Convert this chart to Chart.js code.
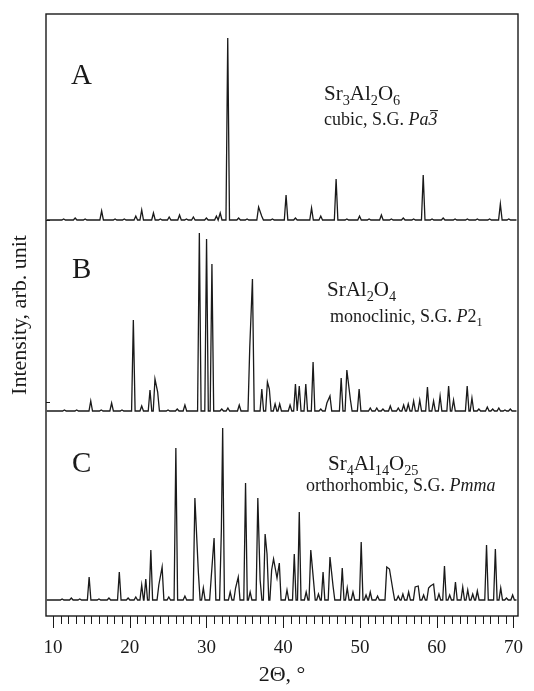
<!DOCTYPE html>
<html>
<head>
<meta charset="utf-8">
<script src="https://cdn.jsdelivr.net/npm/chart.js@4.4.1/dist/chart.umd.min.js"></script>
<style>
  html, body { margin: 0; padding: 0; background: #fff; }
</style>
</head>
<body>
<canvas id="xrd" width="534" height="691"></canvas>
<script>
const xTicks = [10, 20, 30, 40, 50, 60, 70]

// A - Sr3Al2O6, peak positions (2theta) and heights (arb.)
const posA = [11.4, 12.9, 14.2, 16.35, 18.1, 19.3, 20.8, 21.57, 23.1, 24.0, 25.15, 26.5, 27.4, 28.3, 30.0,
  31.3, 31.8, 32.78, 34.2, 35.3, 36.8, 37.2, 38.6, 40.38, 41.6, 43.7, 44.9, 46.9, 48.3, 49.95, 51.2,
  52.8, 54.1, 55.65, 57.0, 58.25, 59.4, 60.85, 62.4, 64.0, 65.3, 66.9, 68.3, 69.4]
const intA = [1, 2, 1, 9, 1, 1, 4, 10, 7, 1, 3, 5, 1, 3, 2,
  4, 7, 182, 2, 1, 13, 4, 1, 25, 2, 12, 4, 41, 1, 4, 1,
  5, 1, 2, 1, 45, 1, 2, 1, 1, 1, 1, 16, 1]

// B - SrAl2O4
const posB = [11.5, 13.1, 14.93, 16.3, 17.65, 19.0, 20.48, 21.57, 22.65, 23.3, 23.65, 25.0, 26.2, 27.2,
  29.08, 30.02, 30.72, 32.0, 32.8, 34.28, 35.65, 36.0, 37.22, 37.95, 38.2, 38.95, 39.55, 40.9, 41.6,
  42.1, 42.95, 43.9, 44.9, 45.7, 46.1, 47.56, 48.3, 48.75, 49.9, 51.35, 52.2, 53.0, 53.96, 55.0, 55.7,
  56.3, 57.0, 57.8, 58.8, 59.6, 60.45, 61.56, 62.2, 63.98, 64.6, 65.5, 66.6, 67.3, 68.1, 68.9, 69.6]
const intB = [1, 1, 10, 1, 8, 1, 91, 5, 21, 32, 19, 1, 2, 6,
  178, 172, 147, 2, 3, 6, 64, 132, 22, 29, 22, 7, 7, 6, 27,
  25, 27, 49, 2, 8, 15, 33, 41, 12, 22, 3, 3, 2, 5, 3, 6,
  7, 10, 11, 24, 10, 15, 25, 11, 25, 13, 2, 4, 2, 3, 1, 2]

// C - Sr4Al14O25
const posC = [11.2, 12.4, 13.5, 14.72, 16.0, 17.3, 18.65, 19.8, 20.8, 21.57, 22.1, 22.76, 23.8, 24.23,
  25.1, 26.02, 27.2, 28.5, 28.95, 29.6, 30.65, 31.0, 31.95, 32.12, 33.1, 33.8, 34.15, 35.1, 35.7, 36.7,
  37.0, 37.65, 37.9, 38.5, 38.75, 39.2, 39.5, 40.5, 41.45, 42.1, 43.0, 43.6, 43.95, 44.6, 45.2, 46.1,
  46.5, 47.7, 48.35, 49.1, 50.17, 50.8, 51.35, 52.3, 53.5, 53.85, 54.3, 55.0, 55.6, 56.35, 57.2, 57.6,
  58.3, 58.95, 59.2, 59.6, 60.3, 61.02, 61.7, 62.45, 63.4, 64.05, 64.7, 65.3, 66.5, 67.65, 68.35, 69.1,
  69.9]
const intC = [1, 2, 1, 23, 1, 2, 28, 2, 3, 15, 21, 50, 15, 33,
  3, 152, 4, 102, 28, 12, 25, 62, 70, 172, 8, 12, 23, 117, 8, 102,
  20, 66, 46, 30, 41, 22, 37, 10, 46, 88, 8, 50, 20, 6, 28, 43,
  14, 32, 12, 8, 58, 5, 8, 4, 33, 31, 10, 4, 6, 8, 13, 14,
  5, 12, 14, 16, 6, 34, 5, 18, 13, 10, 6, 9, 55, 51, 12, 2,
  5]

// small inward marks on the left frame (y-axis values)
const sideTicks = [214, 396]

const serif = "'Liberation Serif', 'Times New Roman', serif"
const ink = '#1a1a1a'
const halfWidth = 0.23

function profile(pos, inten, base) {
  const pts = [{x: 9.2, y: base}]
  let joined = false
  pos.forEach((p, i) => {
    if (!joined) pts.push({x: p - halfWidth, y: base})
    pts.push({x: p, y: base + inten[i]})
    const next = pos[i + 1]
    joined = next !== undefined && next - p < 2 * halfWidth
    if (!joined) pts.push({x: p + halfWidth, y: base})
  })
  pts.push({x: 70.4, y: base})
  return pts
}

function drawRuns(ctx, x, y, size, runs) {
  runs.forEach(r => {
    const s = r.sub ? size * 0.68 : size
    ctx.font = (r.it ? 'italic ' : '') + s + 'px ' + serif
    const dy = r.sub ? size * 0.22 : 0
    ctx.fillText(r.t, x, y + dy)
    const w = ctx.measureText(r.t).width
    if (r.bar) {
      ctx.beginPath()
      ctx.moveTo(x + 1.5, y - size * 0.8)
      ctx.lineTo(x + w + 0.5, y - size * 0.8)
      ctx.lineWidth = 1
      ctx.stroke()
    }
    x += w
  })
}

const frame = {
  id: 'frame',
  afterDraw(chart) {
    const {ctx, chartArea: a, scales: {x, y}} = chart
    ctx.save()
    ctx.strokeStyle = ink
    ctx.lineWidth = 1.4
    ctx.strokeRect(a.left, a.top, a.right - a.left, a.bottom - a.top)
    ctx.lineWidth = 1
    for (let v = xTicks[0]; v <= xTicks[xTicks.length - 1]; v++) {
      const px = Math.round(x.getPixelForValue(v)) + 0.5
      ctx.beginPath()
      ctx.moveTo(px, a.bottom)
      ctx.lineTo(px, a.bottom + (v % 10 === 0 ? 12 : 8))
      ctx.stroke()
    }
    sideTicks.forEach(v => {
      const py = Math.round(y.getPixelForValue(v)) + 0.5
      ctx.beginPath()
      ctx.moveTo(a.left, py)
      ctx.lineTo(a.left + 4, py)
      ctx.stroke()
    })
    ctx.restore()
  }
}

const notes = {
  id: 'notes',
  afterDraw(chart) {
    const ctx = chart.ctx
    ctx.save()
    ctx.fillStyle = ink
    ctx.strokeStyle = ink
    ctx.textBaseline = 'alphabetic'
    ctx.textAlign = 'left'
    drawRuns(ctx, 71, 84, 29, [{t: 'A'}])
    drawRuns(ctx, 72, 278, 29, [{t: 'B'}])
    drawRuns(ctx, 72, 472, 29, [{t: 'C'}])

    drawRuns(ctx, 324, 100, 21, [{t: 'Sr'}, {t: '3', sub: 1}, {t: 'Al'}, {t: '2', sub: 1}, {t: 'O'}, {t: '6', sub: 1}])
    drawRuns(ctx, 324, 125, 18, [{t: 'cubic, S.G. '}, {t: 'Pa', it: 1}, {t: '3', it: 1, bar: 1}])

    drawRuns(ctx, 327, 296, 21, [{t: 'SrAl'}, {t: '2', sub: 1}, {t: 'O'}, {t: '4', sub: 1}])
    drawRuns(ctx, 330, 322, 18, [{t: 'monoclinic, S.G. '}, {t: 'P', it: 1}, {t: '2'}, {t: '1', sub: 1}])

    drawRuns(ctx, 328, 470, 21, [{t: 'Sr'}, {t: '4', sub: 1}, {t: 'Al'}, {t: '14', sub: 1}, {t: 'O'}, {t: '25', sub: 1}])
    drawRuns(ctx, 306, 491, 18, [{t: 'orthorhombic, S.G. '}, {t: 'Pmma', it: 1}])
    ctx.restore()
  }
}

const line = (pts) => ({data: pts, borderColor: ink, borderWidth: 1.3, pointRadius: 0, tension: 0, fill: false})

new Chart(document.getElementById('xrd'), {
  type: 'line',
  data: {
    datasets: [
      line(profile(posA, intA, 396)),
      line(profile(posB, intB, 205)),
      line(profile(posC, intC, 16))
    ]
  },
  options: {
    responsive: false,
    animation: false,
    layout: {padding: {left: 5, right: 16, top: 14, bottom: 0}},
    plugins: {legend: {display: false}, tooltip: {enabled: false}},
    scales: {
      x: {
        type: 'linear', min: 9.1, max: 70.6,
        afterBuildTicks: s => { s.ticks = xTicks.map(v => ({value: v})) },
        afterFit: s => { s.height = 75; s.paddingLeft = 0; s.paddingRight = 0 },
        grid: {display: false, drawTicks: false},
        border: {display: false},
        ticks: {padding: 21, color: ink, maxRotation: 0, font: {family: serif, size: 19}},
        title: {display: true, text: '2Θ, °', color: ink, font: {family: serif, size: 22}, padding: {top: 0, bottom: 3}}
      },
      y: {
        min: 0, max: 602,
        afterFit: s => { s.width = 41 },
        grid: {display: false, drawTicks: false},
        border: {display: false},
        ticks: {display: false},
        title: {display: true, text: 'Intensity, arb. unit', color: ink, font: {family: serif, size: 22}, padding: {top: 2, bottom: 0}}
      }
    }
  },
  plugins: [frame, notes]
})
</script>
</body>
</html>
